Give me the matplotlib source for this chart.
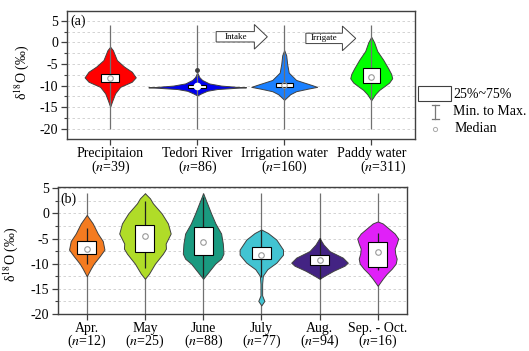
import numpy as np
import matplotlib
matplotlib.use("Agg")
import matplotlib.pyplot as plt
from matplotlib.patches import Rectangle, FancyArrow
from matplotlib.lines import Line2D
from matplotlib.ticker import MultipleLocator

plt.rcParams['font.family'] = 'Liberation Serif'
plt.rcParams['mathtext.fontset'] = 'stix'
plt.rcParams['font.size'] = 10
plt.rcParams['axes.unicode_minus'] = False

# ---- panel (a): water sources ----
a_labels = ['Precipitaion\n($\\it{n}$=39)', 'Tedori River\n($\\it{n}$=86)',
            'Irrigation water\n($\\it{n}$=160)', 'Paddy water\n($\\it{n}$=311)']
a_colors = ['#ff0000', '#0000ee', '#1a80ff', '#00ff00']
# violin outlines: d18O levels and half widths (x units)
a_prof_y = [
    [-1.0, -1.8, -4.1, -5.6, -6.8, -8.1, -9.1, -10.3, -11.8, -13.4, -14.9],
    [-7.0, -8.0, -8.7, -9.5, -10.0, -10.3, -10.4, -10.5, -10.8, -11.2, -11.8, -12.3],
    [-1.8, -3.0, -5.0, -7.0, -8.7, -9.3, -9.9, -10.3, -10.7, -11.3, -12.0, -13.3],
    [1.3, 0.0, -2.0, -4.0, -6.0, -7.3, -8.3, -9.3, -10.0, -11.0, -12.0, -13.4],
]
a_prof_w = [
    [0, .031, .077, .160, .249, .294, .249, .115, .057, .026, 0],
    [0, .023, .057, .137, .275, .458, .561, .458, .229, .115, .046, 0],
    [0, .023, .034, .052, .137, .229, .321, .378, .275, .137, .069, 0],
    [0, .034, .069, .137, .195, .229, .241, .206, .160, .092, .046, 0],
]
a_q1 = [-9.2, -10.6, -10.4, -9.3]
a_q3 = [-7.4, -9.9, -9.3, -6.0]
a_med = [-8.3, -10.2, -9.9, -8.1]
a_min = [-20, -20, -20, -20]
a_max = [4, 4, 4, 4]
a_outlier = (2, -6.3)

# ---- panel (b): precipitation by month ----
b_labels = ['Apr.\n($\\it{n}$=12)', 'May\n($\\it{n}$=25)', 'June\n($\\it{n}$=88)',
            'July\n($\\it{n}$=77)', 'Aug.\n($\\it{n}$=94)', 'Sep. - Oct.\n($\\it{n}$=16)']
b_colors = ['#f47b20', '#b0dc28', '#1a9a80', '#42c4d2', '#432383', '#e020f8']
b_prof_y = [
    [-0.3, -2, -4, -5.5, -7.2, -8.5, -10, -11, -12.5],
    [4.0, 3, 2, 0, -2, -4, -6, -7, -8, -10, -12, -13],
    [4.0, 2, 0, -2, -4, -6, -7, -8, -9, -10, -12, -13],
    [-3.2, -3.9, -5.2, -7.2, -8.2, -9.8, -11.1, -12.4, -14, -16.3, -17.4, -18.3],
    [-4.9, -6.2, -7.5, -8.8, -9.8, -10.4, -11.4, -12.4, -13.0],
    [-1.6, -2, -3, -4, -5, -6, -7, -8, -9, -10, -11, -12, -13, -14.4],
]
b_prof_w = [
    [0, .103, .189, .275, .304, .223, .120, .069, 0],
    [0, .086, .137, .287, .395, .442, .356, .361, .309, .172, .069, 0],
    [0, .069, .137, .211, .309, .338, .344, .349, .309, .206, .069, 0],
    [0, .115, .258, .373, .373, .258, .103, .026, .014, .014, .052, 0],
    [0, .069, .172, .400, .486, .430, .241, .086, 0],
    [0, .086, .189, .292, .352, .326, .292, .301, .326, .309, .241, .155, .086, 0],
]
b_q1 = [-8.0, -7.6, -8.3, -9.1, -10.3, -10.6]
b_q3 = [-5.4, -2.3, -2.8, -6.7, -8.2, -5.7]
b_med = [-7.0, -4.4, -5.6, -8.2, -9.2, -7.7]
b_wlo = [-10.1, -10.8, -12.7, -12.7, -13.0, -11.3]
b_whi = [-2.9, 2.5, 3.2, -3.3, -4.9, -3.9]
b_min = [-20] * 6
b_max = [4] * 6

edge = '#404040'
fig = plt.figure(figsize=(5.29, 3.51), dpi=100)
ax1 = fig.add_axes([0.126, 0.603, 0.658, 0.366])
ax2 = fig.add_axes([0.109, 0.1055, 0.660, 0.361])


def style_axes(ax):
    for s in ax.spines.values():
        s.set_color(edge)
        s.set_linewidth(1.0)
    ax.set_yticks([-20, -15, -10, -5, 0, 5])
    ax.yaxis.set_minor_locator(MultipleLocator(2.5))
    ax.tick_params(axis='both', which='major', direction='out', length=4,
                   width=0.9, color=edge, labelsize=10, pad=2)
    ax.tick_params(axis='x', which='major', pad=1.5)
    ax.tick_params(axis='y', which='minor', direction='out', length=2.5,
                   width=0.8, color=edge)
    ax.grid(axis='y', which='both', ls=(0, (3, 3)), color='#cccccc', lw=0.6)
    ax.set_axisbelow(True)
    ax.set_ylabel('δ$^{18}$O (‰)', fontsize=10)


def draw_violins(ax, prof_y, prof_w, colors, q1, q3, med, bw):
    for i, (ys, ws) in enumerate(zip(prof_y, prof_w)):
        pos = i + 1
        ys = np.array(ys)
        ws = np.array(ws)
        ax.fill_betweenx(ys, pos - ws, pos + ws, facecolor=colors[i],
                         edgecolor=edge, lw=0.7, zorder=2)
        ax.add_patch(Rectangle((pos - bw, q1[i]), 2 * bw, q3[i] - q1[i],
                               fc='white', ec='black', lw=0.8, zorder=5))
        ax.plot(pos, med[i], 'o', mfc='none', mec='#999999', ms=4,
                mew=0.8, zorder=6)


def set_labels(ax, labels):
    ax.set_xticklabels(labels)
    for t in ax.get_xticklabels():
        t.set_linespacing(0.88)


# panel (a)
style_axes(ax1)
pos_a = np.arange(1, len(a_labels) + 1)
draw_violins(ax1, a_prof_y, a_prof_w, a_colors, a_q1, a_q3, a_med, 0.10)
ax1.vlines(pos_a, a_min, a_max, color='#707070', lw=0.9, zorder=3)
ax1.plot(*a_outlier, 'o', color=edge, ms=2.5, zorder=3)
ax1.plot(2, a_med[1], 'o', color='white', ms=4.5, zorder=7)
ax1.set_xlim(0.5, 4.5)
ax1.set_ylim(-22.45, 7.3)
ax1.set_xticks(pos_a)
set_labels(ax1, a_labels)
ax1.get_xticklabels()[3].set_multialignment('right')
ax1.yaxis.set_label_coords(-0.102, 0.52)
ax1.text(0.01, 0.92, '(a)', transform=ax1.transAxes, ha='left', va='center',
         fontsize=10)

# arrows
for x0, x1, yc, hl, txt, tx in [(2.218, 2.806, 1.3, 0.149, 'Intake', 2.44),
                                (3.249, 3.822, 0.93, 0.153, 'Irrigate', 3.46)]:
    arr = FancyArrow(x0, yc, x1 - x0, 0, width=2.4, head_width=5.7,
                     head_length=hl, length_includes_head=True,
                     fc='white', ec=edge, lw=0.7, zorder=4)
    ax1.add_patch(arr)
    ax1.text(tx, yc, txt, ha='center', va='center', fontsize=6.5, zorder=5)

# panel (b)
style_axes(ax2)
pos_b = np.arange(1, len(b_labels) + 1)
ax2.vlines(pos_b, b_min, b_max, color='#707070', lw=0.9, zorder=1.5)
draw_violins(ax2, b_prof_y, b_prof_w, b_colors, b_q1, b_q3, b_med, 0.163)
ax2.vlines(pos_b, b_wlo, b_whi, color='#202020', lw=0.9, zorder=3)
ax2.set_xlim(0.5, 6.5)
ax2.set_ylim(-20, 5.2)
ax2.set_xticks(pos_b)
set_labels(ax2, b_labels)
ax2.yaxis.set_label_coords(-0.108, 0.47)
ax2.text(0.007, 0.906, '(b)', transform=ax2.transAxes, ha='left',
         va='center', fontsize=10)


# legend (figure pixels)
def fx(px):
    return px / 529.0


def fy(py):
    return 1 - py / 351.0


fig.add_artist(Rectangle((fx(418), fy(100.5)), fx(451) - fx(418),
                         fy(86) - fy(100.5), transform=fig.transFigure,
                         fc='white', ec=edge, lw=0.8))
for xs, ys in [([435, 435], [104.5, 118.5]), ([431.5, 438.5], [104.5, 104.5]),
               ([431.5, 438.5], [118.5, 118.5])]:
    fig.add_artist(Line2D([fx(v) for v in xs], [fy(v) for v in ys],
                          transform=fig.transFigure, color='#777777', lw=0.9))
fig.add_artist(Line2D([fx(434.5)], [fy(128.5)], transform=fig.transFigure,
                      marker='o', mfc='none', mec='#aaaaaa', ms=3, mew=0.7))
fig.text(fx(453), fy(94), '25%~75%', ha='left', va='center', fontsize=10)
fig.text(fx(453), fy(111.5), 'Min. to Max.', ha='left', va='center', fontsize=10)
fig.text(fx(455), fy(129), 'Median', ha='left', va='center', fontsize=10)

fig.savefig('out.png', dpi=100)
